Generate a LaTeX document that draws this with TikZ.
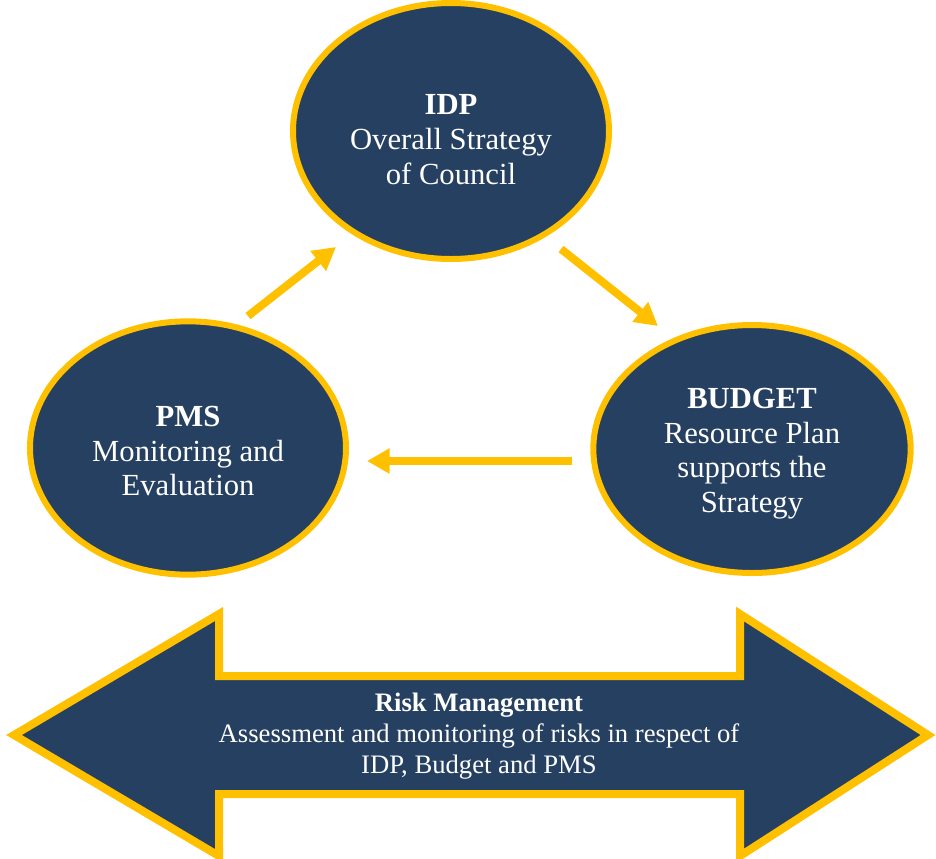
\documentclass[tikz,border=0pt]{standalone}
\usepackage{fontspec}
\setmainfont{Liberation Serif}
\usetikzlibrary{shapes.geometric,arrows.meta}

\definecolor{navy}{HTML}{264061}
\definecolor{gold}{HTML}{FFC000}

\tikzset{
  stage/.style={ellipse, draw=gold, fill=navy, line width=4.5pt, text=white,
    align=center, font=\fontsize{23}{26}\selectfont, inner sep=0pt},
  flow/.style={draw=gold, line width=6pt,
    -{Triangle[length=17pt,width=18pt]}},
  band/.style={draw=gold, fill=navy, line width=6pt, line join=miter}
}

\begin{document}
\begin{tikzpicture}[x=0.75pt,y=-0.75pt]
  \useasboundingbox (0,0) rectangle (936,858);

  \node[stage, minimum width=237pt, minimum height=192pt] (idp) at (451,131)
    { \rule{0pt}{28pt}\textbf{IDP} \\ Overall Strategy \\ of Council };
  \node[stage, minimum width=237pt, minimum height=190pt] (pms) at (188,448)
    { \rule{0pt}{20pt}\textbf{PMS} \\ Monitoring and \\ Evaluation };
  \node[stage, minimum width=238pt, minimum height=186pt] (budget) at (752,449)
    { \rule{0pt}{22pt}\textbf{BUDGET} \\ Resource Plan \\ supports the \\ Strategy };

  \coordinate (pmsout) at (248,316);
  \coordinate (idpin) at (336,247);
  \coordinate (idpout) at (561,249);
  \coordinate (budgetin) at (658,326);
  \coordinate (budgetout) at (572,461);
  \coordinate (pmsin) at (367,461);

  \draw[flow] (pmsout) -- (idpin);
  \draw[flow] (idpout) -- (budgetin);
  \draw[flow] (budgetout) -- (pmsin);

  % risk management band
  \draw[band] (14,735) -- (219,614) -- (219,676) -- (740,676) -- (740,614)
    -- (928,735) -- (740,856) -- (740,794) -- (219,794) -- (219,856) -- cycle;
  \node[text=white, align=center, font=\fontsize{20}{23}\selectfont] (risk) at (479,736)
    { \textbf{Risk Management} \\ Assessment and monitoring of risks in respect of \\ IDP, Budget and PMS };
\end{tikzpicture}
\end{document}
